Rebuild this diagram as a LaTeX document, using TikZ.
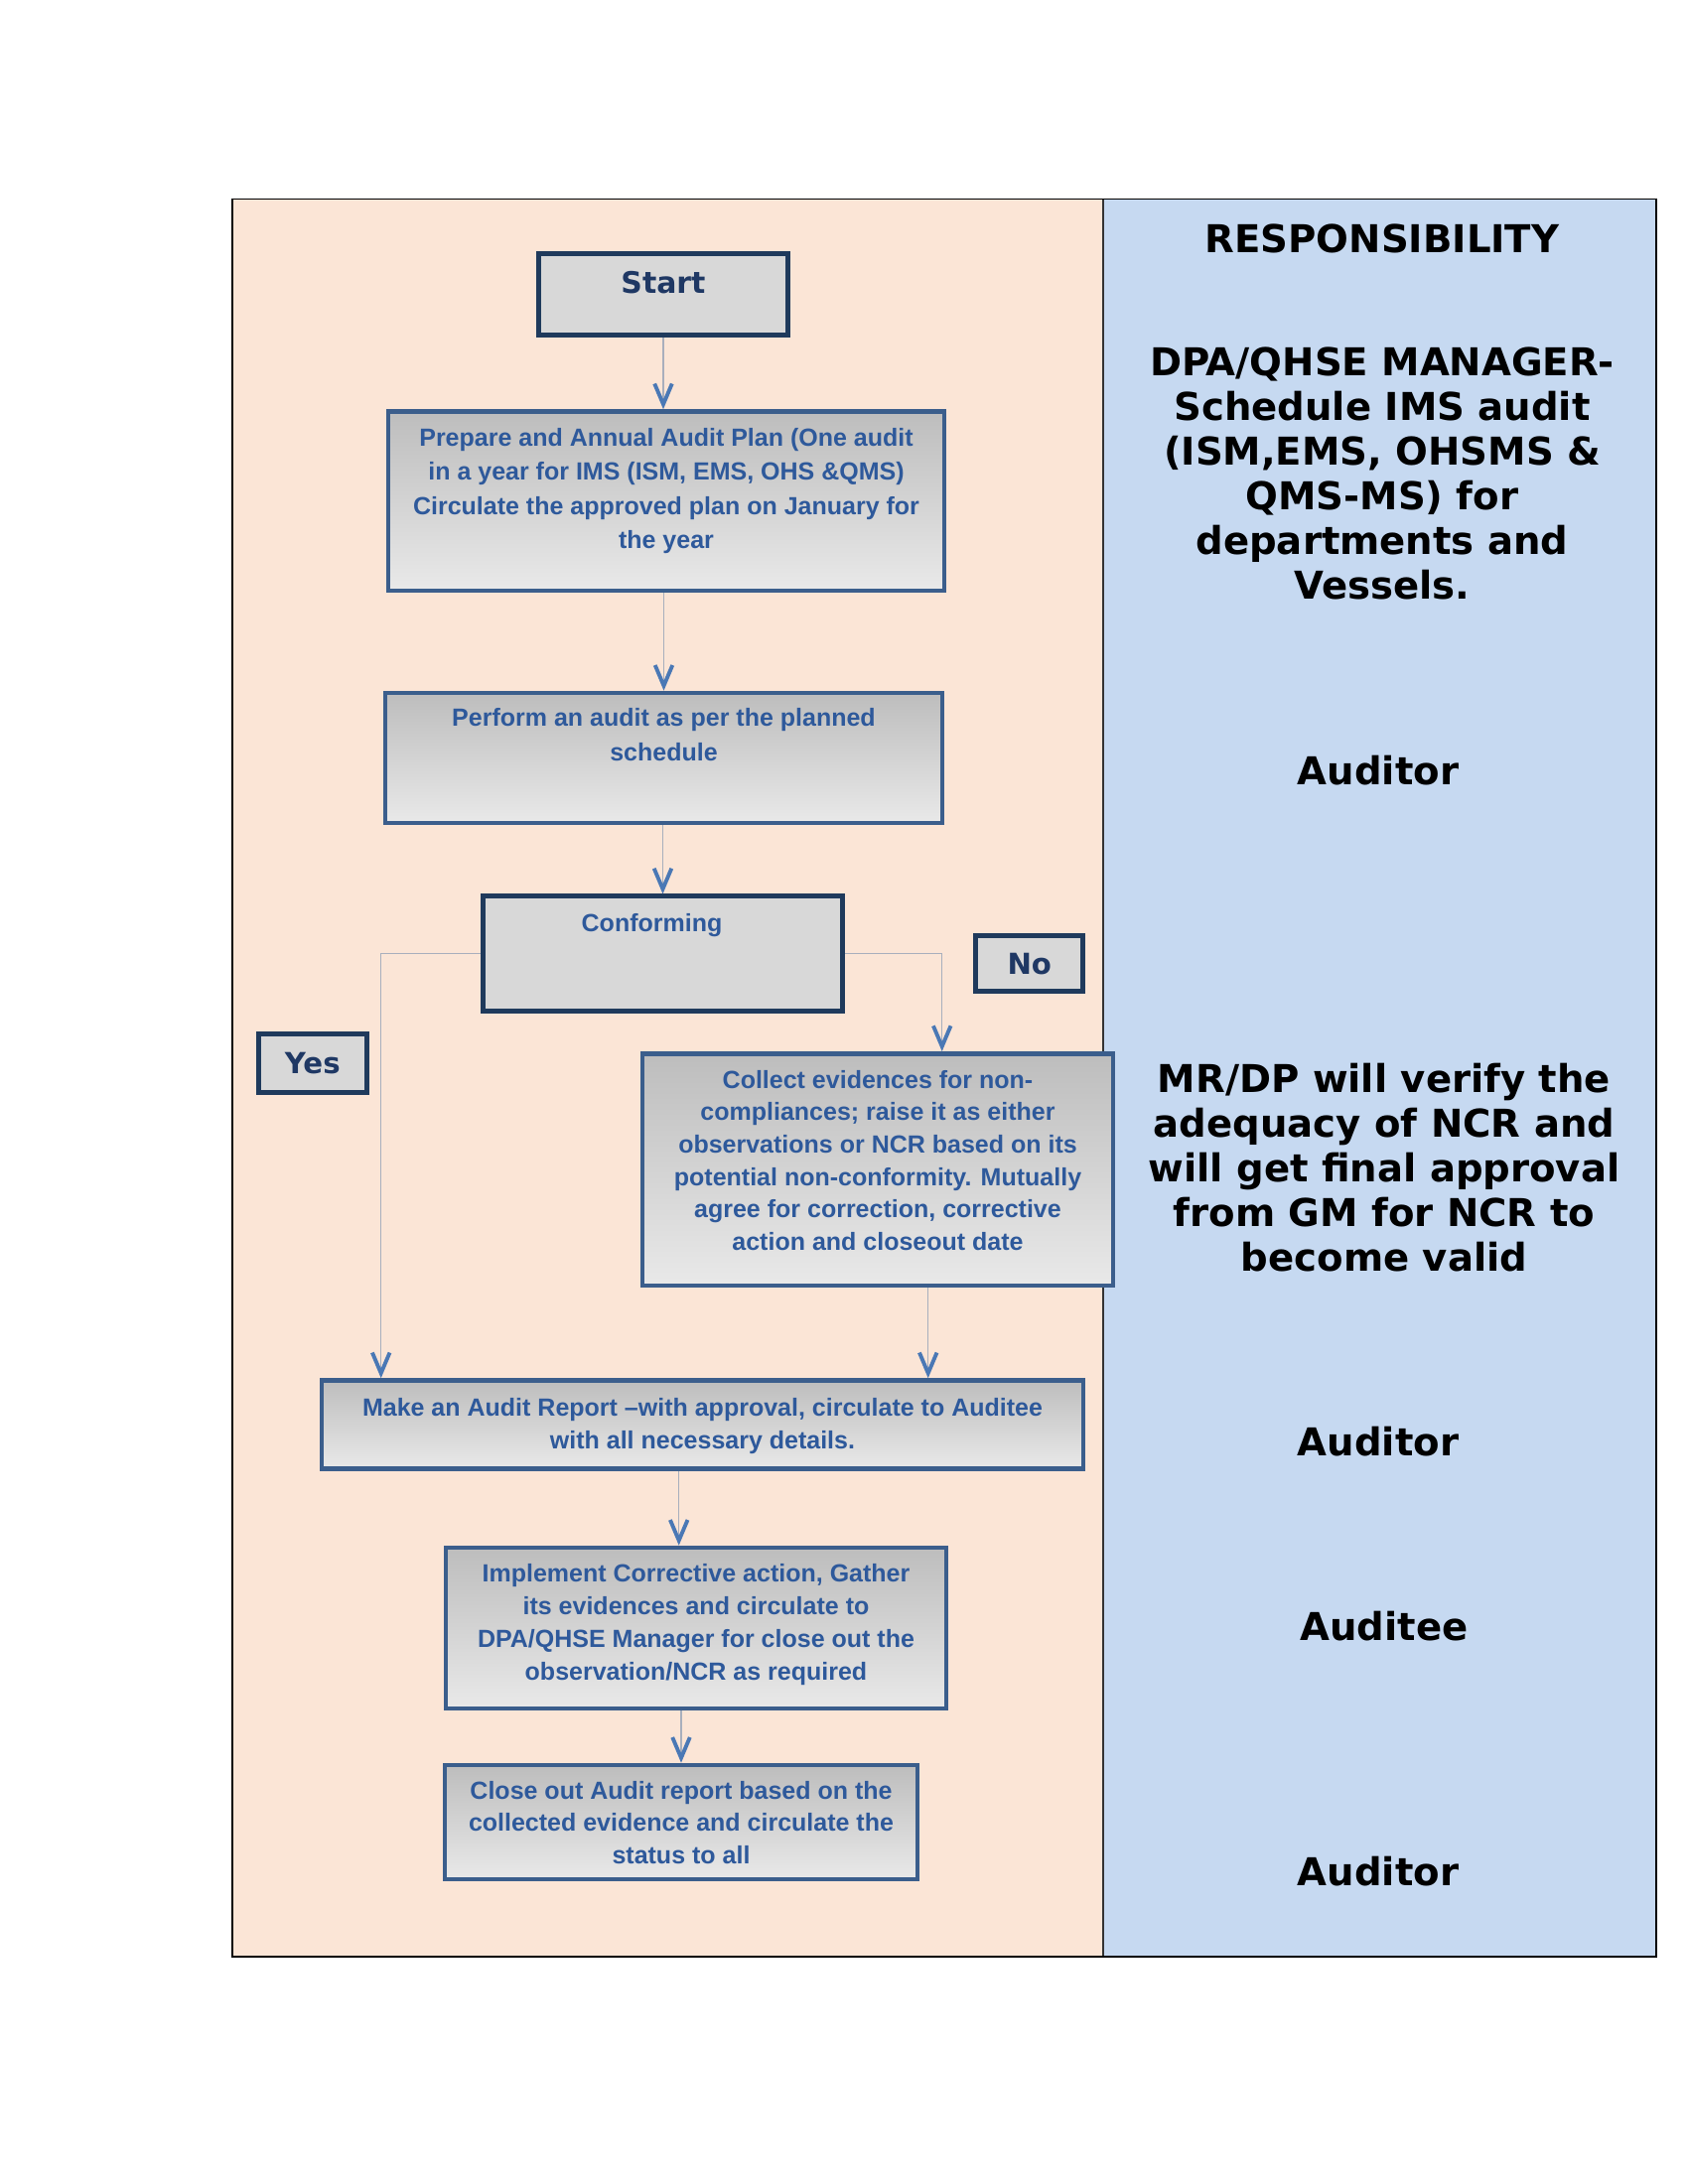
\documentclass[tikz,border=0pt]{standalone}
\usepackage{fontspec}
\setmainfont{Liberation Sans}
\newfontfamily\dejavu{DejaVu Sans}
\usetikzlibrary{arrows.meta,calc}
\newlength\px \setlength\px{0.01cm}
\definecolor{peach}{HTML}{FBE5D6}
\definecolor{paleblue}{HTML}{C6D9F1}
\definecolor{flowborder}{HTML}{3B5E8C}
\definecolor{navyborder}{HTML}{1F3A5C}
\definecolor{navytext}{HTML}{1F3864}
\definecolor{flowtext}{HTML}{2E599B}
\definecolor{gtop}{HTML}{BDBDBD}
\definecolor{gbot}{HTML}{E9E9E9}
\definecolor{boxgray}{HTML}{D8D8D8}
\definecolor{connline}{HTML}{A8AFBD}
\definecolor{arrowblue}{HTML}{4A78B5}
\newcommand\boxtxt[4]{\parbox[c][#2\px][t]{#1\px}{\centering\vspace*{#3\px}#4\par}}
\tikzset{
  flowbox/.style={draw=flowborder, line width=1.3pt, top color=gtop, bottom color=gbot,
    inner sep=0pt, text=flowtext, font=\bfseries\fontsize{7.11}{9.5}\selectfont},
  navybox/.style={draw=navyborder, line width=1.4pt, fill=boxgray, inner sep=0pt},
  labelbox/.style={navybox, text=navytext, font=\dejavu\bfseries\fontsize{8.3}{10}\selectfont},
  resptext/.style={align=center, inner sep=0pt, text=black,
    font=\dejavu\bfseries\fontsize{10.98}{12.8}\selectfont},
  conn/.style={draw=connline, line width=0.34pt,
    -{Straight Barb[length=5.9pt, width=5pt, line width=1.1pt, color=arrowblue]}}
}
\begin{document}
\begin{tikzpicture}[x=0.01cm, y=-0.01cm]
\useasboundingbox (0,0) rectangle (1700,2200);
% panels
\fill[peach] (234,200.6) rectangle (1111,1970.7);
\fill[paleblue] (1111,200.6) rectangle (1667.7,1970.7);
\draw[line width=0.34pt, black!80] (1111,200.6) -- (1111,1970.7);
\draw[line width=0.45pt, black] (234,200.6) rectangle (1667.7,1970.7);

% flow boxes
\node[navybox, text=navytext, font=\dejavu\bfseries\fontsize{8.5}{10}\selectfont] (start) at (668,296.5)
  {\boxtxt{251.5}{82.5}{18.4}{Start}};
\node[flowbox, font=\bfseries\fontsize{7.11}{9.76}\selectfont] (plan) at (671,504.75)
  {\boxtxt{560}{180.5}{17}{Prepare and Annual Audit Plan (One audit\\in a year for IMS (ISM, EMS, OHS \&QMS)\\Circulate the approved plan on January for\\the year}};
\node[flowbox, font=\bfseries\fontsize{7.11}{9.96}\selectfont] (perform) at (668.5,763.5)
  {\boxtxt{561}{131}{15}{Perform an audit as per the planned\\schedule}};
\node[navybox, text=flowtext, font=\bfseries\fontsize{7.11}{9.5}\selectfont] (conf) at (667.5,960.85)
  {\boxtxt{362.5}{115.8}{17}{Conforming\kern22\px}};
\node[labelbox, minimum width=108\px, minimum height=55.5\px] (no) at (1036.75,970.7) {No};
\node[labelbox, minimum width=109\px, minimum height=58.7\px] (yes) at (314.8,1070.9) {Yes};
\node[flowbox, font=\bfseries\fontsize{7.11}{9.30}\selectfont] (collect) at (884,1178.2)
  {\boxtxt{474}{233.7}{16.7}{Collect evidences for non-\\compliances; raise it as either\\observations or NCR based on its\\potential non-conformity. Mutually\\agree for correction, corrective\\action and closeout date}};
\node[flowbox, font=\bfseries\fontsize{7.11}{9.47}\selectfont] (report) at (707.5,1435)
  {\boxtxt{767}{89}{17.7}{Make an Audit Report –with approval, circulate to Auditee\\with all necessary details.}};
\node[flowbox, font=\bfseries\fontsize{7.11}{9.42}\selectfont] (impl) at (701,1640)
  {\boxtxt{504}{162}{16}{Implement Corrective action, Gather\\its evidences and circulate to\\DPA/QHSE Manager for close out the\\observation/NCR as required}};
\node[flowbox, font=\bfseries\fontsize{7.11}{9.33}\selectfont] (close) at (686,1835.5)
  {\boxtxt{476}{115}{16}{Close out Audit report based on the\\collected evidence and circulate the\\status to all}};

% connectors
\draw[conn] (start.south) -- (start.south |- plan.north);
\draw[conn] (perform.north |- plan.south) -- (perform.north);
\draw[conn] (conf.north |- perform.south) -- (conf.north);
\draw[conn] (conf.west) -| ($(report.north west)+(62,0)$);
\draw[conn] (conf.east) -| ($(collect.north west)+(304,0)$);
\coordinate (c2r) at ($(collect.south west)+(290,0)$);
\draw[conn] (c2r) -- (c2r |- report.north);
\coordinate (r2i) at ($(report.south west)+(362,0)$);
\draw[conn] (r2i) -- (r2i |- impl.north);
\draw[conn] (close.north |- impl.south) -- (close.north);

% responsibility column
\node[resptext] (resp) at (1392,240) {RESPONSIBILITY};
\node[resptext] (dpa) at (1392,477) {DPA/QHSE MANAGER-\\Schedule IMS audit\\(ISM,EMS, OHSMS \&\\QMS-MS) for\\departments and\\Vessels.};
\node[resptext] (aud1) at (1388,776) {Auditor};
\node[resptext] (mr) at (1394,1176.5) {MR/DP will verify the\\adequacy of NCR and\\will get final approval\\from GM for NCR to\\become valid};
\node[resptext] (aud2) at (1388,1452) {Auditor};
\node[resptext] (auditee) at (1394,1638) {Auditee};
\node[resptext] (aud3) at (1388,1885) {Auditor};
\end{tikzpicture}
\end{document}
